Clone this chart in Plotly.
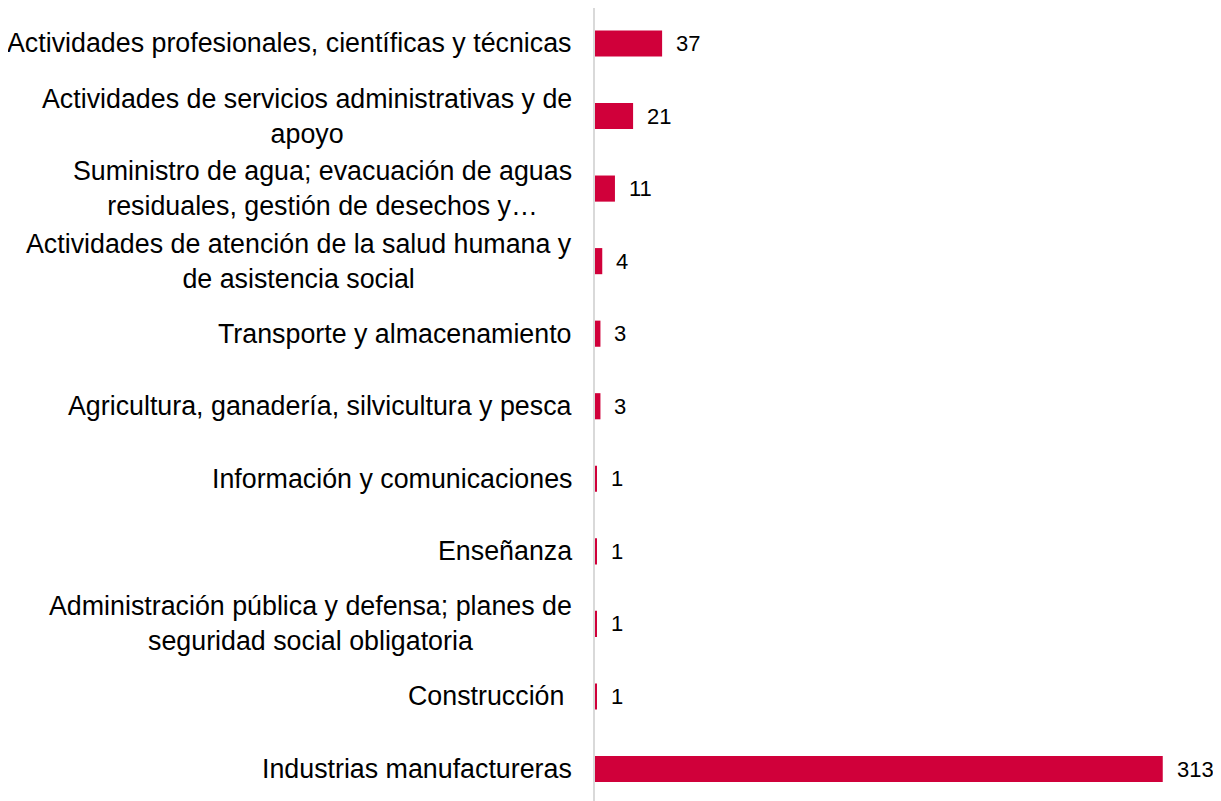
import plotly.graph_objects as go

categories = [
    "Actividades profesionales, científicas y técnicas",
    "Actividades de servicios administrativas y de<br>apoyo",
    "Suministro de agua; evacuación de aguas<br>residuales, gestión de desechos y…",
    "Actividades de atención de la salud humana y<br>de asistencia social",
    "Transporte y almacenamiento",
    "Agricultura, ganadería, silvicultura y pesca",
    "Información y comunicaciones",
    "Enseñanza",
    "Administración pública y defensa; planes de<br>seguridad social obligatoria",
    "Construcción\u00a0",
    "Industrias manufactureras",
]
values = [37, 21, 11, 4, 3, 3, 1, 1, 1, 1, 313]

BAR_COLOR = "#D0003A"
LABEL_FONT = dict(family="Liberation Sans, Arial, sans-serif", size=26.8, color="#000000")
VALUE_FONT = dict(family="Liberation Sans, Arial, sans-serif", size=22, color="#000000")

fig = go.Figure()
fig.add_trace(go.Bar(
    x=values, y=categories, orientation="h",
    marker=dict(color=BAR_COLOR, line=dict(width=0)),
    width=0.36, hoverinfo="skip",
))

annotations = []
for cat, val in zip(categories, values):
    annotations.append(dict(
        x=0, xref="paper", y=cat, yref="y", text=cat, showarrow=False,
        xanchor="right", yanchor="middle", align="center", xshift=-21,
        font=LABEL_FONT,
    ))
    annotations.append(dict(
        x=val, xref="x", y=cat, yref="y", text=str(val), showarrow=False,
        xanchor="left", yanchor="middle", xshift=12, font=VALUE_FONT,
    ))

fig.update_layout(
    width=1205, height=793,
    margin=dict(l=587, r=2, t=0, b=0),
    paper_bgcolor="white", plot_bgcolor="white",
    showlegend=False,
    xaxis=dict(range=[0, 339.6], visible=False),
    yaxis=dict(type="category", categoryorder="array", categoryarray=categories,
               range=[10.441, -0.489], showticklabels=False, ticks="",
               showgrid=False, zeroline=False,
               showline=True, linecolor="#D9D9D9", linewidth=2),
    annotations=annotations,
)

fig.write_html("out.html")
